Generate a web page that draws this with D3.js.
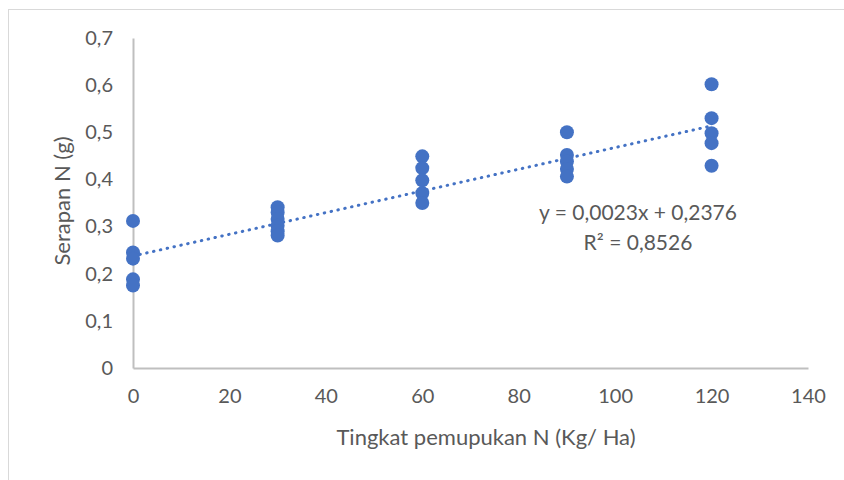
<!DOCTYPE html>
<html>
<head>
<meta charset="utf-8">
<script src="https://cdn.jsdelivr.net/npm/d3@7"></script>
<style>
	body { margin: 0; background: #fff; }
	text { font-family: Lato, "Open Sans", sans-serif; fill: #595959; }
</style>
</head>
<body>
<svg id="chart" width="844" height="480"></svg>
<script>
// data
var dosis = [0, 0, 0, 0, 0,
	30, 30, 30, 30, 30, 30,
	60, 60, 60, 60, 60,
	90, 90, 90, 90, 90,
	120, 120, 120, 120, 120];
var serapan = [0.312, 0.245, 0.232, 0.188, 0.175,
	0.341, 0.330, 0.316, 0.302, 0.290, 0.281,
	0.449, 0.424, 0.398, 0.371, 0.350,
	0.500, 0.452, 0.438, 0.422, 0.406,
	0.602, 0.530, 0.498, 0.477, 0.429];
var xTicks = [0, 20, 40, 60, 80, 100, 120, 140];
var yTicks = [0, 0.1, 0.2, 0.3, 0.4, 0.5, 0.6, 0.7];
var slope = 0.0023, intercept = 0.2376;
var eqLabel = "y = 0,0023x + 0,2376";
var r2Label = "R² = 0,8526";

var blue = "#4472C4";
var svg = d3.select("#chart");

// outer chart border
svg.append("rect")
	.attr("x", 8.5).attr("y", 9.5)
	.attr("width", 900).attr("height", 600)
	.attr("fill", "none")
	.attr("stroke", "#d9d9d9");

var xScale = d3.scaleLinear().domain([0, 140]).range([133, 808]);
var yScale = d3.scaleLinear().domain([0, 0.7]).range([368, 38]);

var fmt = function(d) { return d === 0 ? "0" : d3.format(".1f")(d).replace(".", ","); };

// axes
var xAxis = d3.axisBottom(xScale).tickValues(xTicks).tickSize(0).tickPadding(21);
var yAxis = d3.axisLeft(yScale).tickValues(yTicks).tickSize(0).tickPadding(20).tickFormat(fmt);

var gx = svg.append("g").attr("transform", "translate(0,368)").call(xAxis);
var gy = svg.append("g").attr("transform", "translate(133,0)").call(yAxis);

[gx, gy].forEach(function(g) {
	g.select(".domain").attr("stroke", "#bfbfbf").attr("stroke-width", 2);
	g.selectAll("text").style("font-family", "Lato, 'Open Sans', sans-serif")
		.style("font-size", "20px").attr("fill", "#595959");
});

// axis titles
svg.append("text")
	.attr("x", 486).attr("y", 445)
	.attr("text-anchor", "middle")
	.style("font-size", "22px")
	.text("Tingkat pemupukan N (Kg/ Ha)");

svg.append("text")
	.attr("transform", "translate(70,201) rotate(-90)")
	.attr("text-anchor", "middle")
	.style("font-size", "22px")
	.text("Serapan N (g)");

// trendline
var xMin = d3.min(dosis), xMax = d3.max(dosis);
svg.append("line")
	.attr("x1", xScale(xMin)).attr("y1", yScale(intercept + slope * xMin))
	.attr("x2", xScale(xMax)).attr("y2", yScale(intercept + slope * xMax))
	.attr("stroke", blue)
	.attr("stroke-width", 3)
	.attr("stroke-linecap", "round")
	.attr("stroke-dasharray", "0.5,6.5");

// points
svg.append("g").selectAll("circle")
	.data(dosis)
	.enter()
	.append("circle")
	.attr("cx", function(d) { return xScale(d); })
	.attr("cy", function(d, i) { return yScale(serapan[i]); })
	.attr("r", 7)
	.attr("fill", blue);

// equation labels
svg.append("text")
	.attr("x", 638).attr("y", 220)
	.attr("text-anchor", "middle")
	.style("font-size", "21px")
	.text(eqLabel);
svg.append("text")
	.attr("x", 638).attr("y", 250)
	.attr("text-anchor", "middle")
	.style("font-size", "21px")
	.text(r2Label);
</script>
</body>
</html>
